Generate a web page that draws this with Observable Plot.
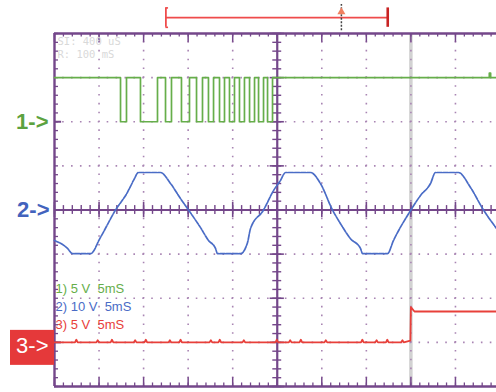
<!DOCTYPE html>
<html><head><meta charset="utf-8">
<script src="https://cdn.jsdelivr.net/npm/d3@7"></script>
<script src="https://cdn.jsdelivr.net/npm/@observablehq/plot@0.6"></script>
<style>
html,body{margin:0;padding:0;background:#fff;overflow:hidden}
#chart{position:absolute;left:0;top:0}
svg text{white-space:pre}
</style>
</head><body><div id="chart"></div>
<script>
// ---- settings / data ----
const msPerDiv = 5;
const timeDivs = 10;
const levelDivs = 4;
const channelMarkers = ["1->", "2->", "3->"];
const channelLabels = ["1) 5 V  5mS", "2) 10 V  5mS", "3) 5 V  5mS"];
const channelVoltsPerDiv = [5, 10, 5];
const channelGroundDiv = [2, 0, -3];
const channelColors = ["#66ae4a", "#4a6cc6", "#e8403a"];
const infoLines = ["SI: 400 uS", "R: 100 mS"];
const triggerTime = 40;
const memoryWindow = [12.5, 37.4];
const memoryCursor = 32.2;

// channel 1 (digital): transition times (ms) and level after (V)
const ch1Times = [0, 7.41, 8.08, 9.65, 11.56, 12.46, 13.13, 14.25, 15.15, 15.94, 16.61, 17.28, 17.85, 18.52, 19.08, 19.64, 20.2, 20.76, 21.32, 21.89, 22.45, 22.9, 23.46, 23.91, 24.47, 48.8, 48.95, 50];
const ch1Volts = [5, 0, 5, 0, 5, 0, 5, 0, 5, 0, 5, 0, 5, 0, 5, 0, 5, 0, 5, 0, 5, 0, 5, 0, 5, 5.5, 5, 5];

// channel 2 (sine-like): time (ms), volts
const ch2Times = [0, 1.46, 2.02, 4.04, 5.16, 6.85, 8.19, 8.87, 9.43, 11.9, 13.02, 14.14, 15.04, 16.39, 17.28, 18.07, 18.29, 20.88, 21.66, 22.0, 23.46, 24.58, 25.36, 25.93, 28.73, 29.85, 31.2, 32.1, 33.22, 34.34, 34.57, 37.37, 38.05, 40.0, 41.08, 42.2, 42.76, 45.34, 46.69, 48.15, 49.61, 50];
const ch2Volts = [-6.9, -8.7, -9.9, -9.9, -6.2, 0, 4.0, 6.7, 8.5, 8.5, 6.0, 2.6, 0, -4.0, -6.9, -8.7, -9.9, -9.9, -7.4, -4.2, 0, 4.4, 6.7, 8.5, 8.5, 6.0, 0, -3.1, -6.5, -8.7, -9.9, -9.9, -6.9, 0, 3.3, 6.0, 8.5, 8.5, 5.1, 0, -4.2, -5.3];

// channel 3: baseline with small glitches, then a step at the trigger
const ch3Times = [0, 2.3, 2.45, 2.6, 4.7, 4.85, 5.0, 6.3, 6.45, 6.6, 8.9, 9.05, 9.2, 10.1, 10.25, 10.4, 12.8, 12.95, 13.1, 14.0, 14.15, 14.3, 17.4, 17.55, 17.7, 18.4, 18.55, 18.7, 21.1, 21.25, 21.4, 24.8, 24.95, 25.1, 26.3, 26.45, 26.6, 27.5, 27.65, 27.8, 30.3, 30.45, 30.6, 34.4, 34.55, 34.7, 36.0, 36.15, 36.3, 37.2, 37.35, 37.5, 38.9, 39.05, 39.2, 39.95, 40.0, 40.4, 50];
const ch3Volts = [0, 0, 0.3, 0, 0, 0.25, 0, 0, 0.3, 0, 0, 0.25, 0, 0, 0.3, 0, 0, 0.25, 0, 0, 0.3, 0, 0, 0.25, 0, 0, 0.3, 0, 0, 0.25, 0, 0, 0.3, 0, 0, 0.25, 0, 0, 0.3, 0, 0, 0.25, 0, 0, 0.3, 0, 0, 0.25, 0, 0, 0.3, 0, 0, 0.25, 0, 0.2, 4.0, 3.5, 3.5];

// ---- build tables ----
const toDiv = (v, ch) => channelGroundDiv[ch] + v / channelVoltsPerDiv[ch];
const ch1 = ch1Times.map((t, i) => ({t, y: toDiv(ch1Volts[i], 0)}));
const ch2 = ch2Times.map((t, i) => ({t, y: toDiv(ch2Volts[i], 1)}));
const ch3 = ch3Times.map((t, i) => ({t, y: toDiv(ch3Volts[i], 2)}));

const tMax = msPerDiv * timeDivs;
const tMid = tMax / 2;
const divTimes = d3.range(0, tMax + 0.001, msPerDiv);
const minorTimes = d3.range(0, tMax + 0.001, msPerDiv / 5);
const divLevels = d3.range(-levelDivs, levelDivs + 0.001, 1);
const minorLevels = d3.range(-levelDivs, levelDivs + 0.001, 0.2);

const axisColor = "#74478a";
const gridColor = "#a985b3";
const font = "Liberation Sans, Arial, sans-serif";

const marks = [
  // trigger position band
  Plot.ruleX([triggerTime], {y1: -levelDivs, y2: levelDivs, stroke: "#d2d2d2", strokeWidth: 3.5}),
  // dotted grid
  Plot.ruleX(divTimes.filter(t => t > 0 && t !== tMid && t < tMax), {y1: -levelDivs, y2: levelDivs, stroke: gridColor, strokeWidth: 1.6, strokeDasharray: "1.6,7.225", strokeDashoffset: 0.8}),
  Plot.ruleY(divLevels.filter(v => v > -levelDivs && v < levelDivs && v !== 0), {x1: 0, x2: tMax, stroke: gridColor, strokeWidth: 1.6, strokeDasharray: "1.6,7.31", strokeDashoffset: 0.8}),
  // frame
  Plot.ruleY([levelDivs, -levelDivs], {x1: 0, x2: tMax, stroke: axisColor, strokeWidth: 2.4}),
  Plot.ruleX([0], {y1: -levelDivs, y2: levelDivs, stroke: axisColor, strokeWidth: 2.4}),
  // center axes
  Plot.ruleX([tMid], {y1: -levelDivs, y2: levelDivs, stroke: axisColor, strokeWidth: 2.2}),
  Plot.ruleY([0], {x1: 0, x2: tMax, stroke: axisColor, strokeWidth: 2.2}),
  // ticks on the center axes
  Plot.ruleX(minorTimes, {y1: -0.1, y2: 0.1, stroke: axisColor, strokeWidth: 1.4}),
  Plot.ruleX(divTimes, {y1: -0.17, y2: 0.17, stroke: axisColor, strokeWidth: 1.6}),
  Plot.ruleY(minorLevels, {x1: tMid - 0.5, x2: tMid + 0.5, stroke: axisColor, strokeWidth: 1.4}),
  Plot.ruleY(divLevels, {x1: tMid - 0.8, x2: tMid + 0.8, stroke: axisColor, strokeWidth: 1.6}),
  // ticks on the border
  Plot.ruleX(minorTimes, {y1: levelDivs, y2: levelDivs - 0.08, stroke: axisColor, strokeWidth: 1.3}),
  Plot.ruleX(divTimes, {y1: levelDivs, y2: levelDivs - 0.2, stroke: axisColor, strokeWidth: 1.5}),
  Plot.ruleX(minorTimes, {y1: -levelDivs, y2: -levelDivs + 0.08, stroke: axisColor, strokeWidth: 1.3}),
  Plot.ruleX(divTimes, {y1: -levelDivs, y2: -levelDivs + 0.2, stroke: axisColor, strokeWidth: 1.5}),
  Plot.ruleY(minorLevels, {x1: 0, x2: 0.45, stroke: axisColor, strokeWidth: 1.3}),
  Plot.ruleY(channelGroundDiv, {x1: 0, x2: 0.8, stroke: axisColor, strokeWidth: 2}),
  // traces
  Plot.line(ch1, {x: "t", y: "y", curve: "step-after", stroke: channelColors[0], strokeWidth: 1.7}),
  Plot.line(ch2, {x: "t", y: "y", curve: "monotone-x", stroke: channelColors[1], strokeWidth: 1.7, strokeDasharray: "5,1.2"}),
  Plot.line(ch3, {x: "t", y: "y", stroke: channelColors[2], strokeWidth: 1.8}),
  // memory window indicator above the screen
  Plot.ruleY([4.36], {x1: memoryWindow[0], x2: memoryWindow[1], stroke: "#ef4b4b", strokeWidth: 1.6}),
  Plot.ruleX([memoryWindow[0]], {y1: 4.14, y2: 4.58, stroke: "#ef4b4b", strokeWidth: 1.8}),
  Plot.ruleY([4.14, 4.58], {x1: memoryWindow[0], x2: memoryWindow[0] + 0.3, stroke: "#ef4b4b", strokeWidth: 1.6}),
  Plot.ruleX([memoryWindow[1]], {y1: 4.14, y2: 4.58, stroke: "#c82424", strokeWidth: 2.6}),
  Plot.ruleX([memoryCursor], {y1: 4.06, y2: 4.66, stroke: "#444", strokeWidth: 1.5, strokeDasharray: "2,1.5"}),
  Plot.dot([memoryCursor], {x: d => d, y: 4.49, symbol: "triangle", r: 3, fill: "#f08060", stroke: "none"}),
  // info text
  Plot.text([infoLines.join("\n")], {frameAnchor: "top-left", lineAnchor: "top", dx: 3, dy: 2, fill: "#d9d9d9", fontSize: 10.5, fontFamily: "DejaVu Sans Mono, monospace", lineHeight: 1.25}),
];

const labelRowOffsets = [250, 268, 286];
channelLabels.forEach((lab, i) => {
  marks.push(Plot.text([lab], {frameAnchor: "top-left", textAnchor: "start", dx: 1, dy: labelRowOffsets[i], fill: channelColors[i], fontSize: 13, letterSpacing: 2, fontFamily: font}));
});
// channel markers at the left
marks.push(Plot.text([channelMarkers[0]], {x: 0, y: channelGroundDiv[0], text: d => d, dx: -6, textAnchor: "end", fill: "#5ca23f", fontSize: 22, fontWeight: "bold", fontFamily: font}));
marks.push(Plot.text([channelMarkers[1]], {x: 0, y: channelGroundDiv[1], text: d => d, dx: -5, textAnchor: "end", fill: "#4363bd", fontSize: 22, fontWeight: "bold", fontFamily: font}));
marks.push(Plot.rect([0], {x1: 0, x2: 0, y1: channelGroundDiv[2], y2: channelGroundDiv[2], insetLeft: -44, insetRight: 0, insetTop: -12, insetBottom: -23, fill: "#e5393a"}));
marks.push(Plot.text([channelMarkers[2]], {x: 0, y: channelGroundDiv[2], text: d => d, dx: -6, dy: 4, textAnchor: "end", fill: "#fff", fontSize: 22, fontFamily: font}));

const chart = Plot.plot({
  width: 496,
  height: 392,
  marginLeft: 54, marginTop: 33, marginBottom: 6, marginRight: 0,
  x: {domain: [0, tMax], range: [54, 499.5], axis: null},
  y: {domain: [-levelDivs, levelDivs], range: [386, 33], axis: null},
  style: {fontFamily: font, background: "#fff"},
  marks
});
document.getElementById("chart").appendChild(chart);
</script>
</body></html>
